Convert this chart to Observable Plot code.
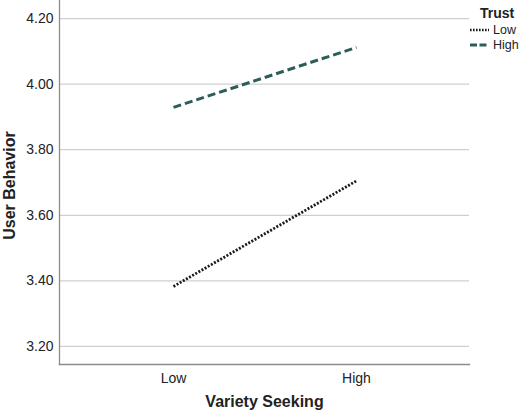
<!DOCTYPE html>
<html>
<head>
<meta charset="utf-8">
<script src="https://cdn.jsdelivr.net/npm/d3@7"></script>
<script src="https://cdn.jsdelivr.net/npm/@observablehq/plot@0.6"></script>
<style>
  html, body { margin: 0; padding: 0; background: #fff; }
  #wrap { position: relative; width: 520px; height: 417px; font-family: "Liberation Sans", Arial, sans-serif; }
  #legend { position: absolute; left: 469px; top: 5px; font-size: 12.5px; color: #222; }
  #legend .title { font-weight: bold; font-size: 14px; margin-left: 11px; margin-bottom: 1px; }
  #legend .item { display: flex; align-items: center; height: 15px; }
  #legend svg { margin-right: 3px; }
</style>
</head>
<body>
<div id="wrap"><div id="legend"></div></div>
<script>
const varietySeeking = ["Low", "High"];
const trustLevels = ["Low", "High"];
const lowTrustValues = [3.383, 3.705];
const highTrustValues = [3.929, 4.112];
const yTicks = [3.2, 3.4, 3.6, 3.8, 4.0, 4.2];

const colors = { Low: "#1a1a1a", High: "#2c5e58" };
const dashes = { Low: "2,1.6", High: "8,4" };

const data = [];
varietySeeking.forEach((v, i) => {
  data.push({ vs: v, trust: "Low", value: lowTrustValues[i] });
  data.push({ vs: v, trust: "High", value: highTrustValues[i] });
});

const chart = Plot.plot({
  width: 520,
  height: 417,
  marginLeft: 59,
  marginRight: 51,
  marginTop: 0,
  marginBottom: 53,
  style: { fontFamily: "Liberation Sans, Arial, sans-serif", fontSize: "14px", color: "#222" },
  x: { type: "point", domain: varietySeeking, padding: 0.62, label: null },
  y: { domain: [3.145, 4.255], label: null },
  marks: [
    Plot.ruleY(yTicks, { stroke: "#cfcfcf", strokeWidth: 1.3 }),
    Plot.axisY({ ticks: yTicks, tickFormat: d => d.toFixed(2), tickSize: 0, tickPadding: 6, fontSize: 14, label: null }),
    Plot.axisX({ tickSize: 0, tickPadding: 9, fontSize: 14, label: null }),
    Plot.frame({ anchor: "left", stroke: "#8c8c8c", strokeWidth: 1.3 }),
    Plot.frame({ anchor: "bottom", stroke: "#8c8c8c", strokeWidth: 1.3 }),
    ...trustLevels.map(t =>
      Plot.line(data.filter(d => d.trust === t), {
        x: "vs", y: "value",
        stroke: colors[t],
        strokeWidth: t === "Low" ? 2.8 : 3,
        strokeDasharray: dashes[t],
        strokeLinecap: "butt"
      })
    ),
    Plot.text(["User Behavior"], { frameAnchor: "left", textAnchor: "middle", dx: -50, dy: 3, rotate: -90, fontWeight: "bold", fontSize: 16, fill: "#222" }),
    Plot.text(["Variety Seeking"], { frameAnchor: "bottom", dy: 42, fontWeight: "bold", fontSize: 16, fill: "#222" })
  ]
});
document.getElementById("wrap").prepend(chart);

const legend = document.getElementById("legend");
legend.innerHTML = `<div class="title">Trust</div>` + trustLevels.map(t =>
  `<div class="item"><svg width="21" height="6"><line x1="1" y1="3" x2="20" y2="3" stroke="${colors[t]}" stroke-width="${t === "Low" ? 2.5 : 3}" stroke-dasharray="${t === "Low" ? "1.6,1.4" : "7,2.5"}"/></svg>${t}</div>`
).join("");
</script>
</body>
</html>
